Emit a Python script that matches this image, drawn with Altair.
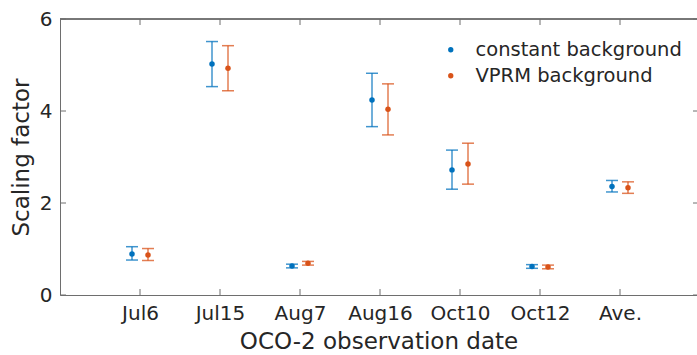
import altair as alt
import pandas as pd

# Observation dates (x categories) and the scaling factors with their error ranges
dates = ["Jul6", "Jul15", "Aug7", "Aug16", "Oct10", "Oct12", "Ave."]

const_mean = [0.89, 5.02, 0.63, 4.24, 2.72, 0.62, 2.36]
const_lo = [0.76, 4.53, 0.59, 3.66, 2.30, 0.58, 2.24]
const_hi = [1.05, 5.51, 0.67, 4.82, 3.15, 0.66, 2.49]

vprm_mean = [0.87, 4.93, 0.69, 4.04, 2.85, 0.61, 2.33]
vprm_lo = [0.75, 4.44, 0.65, 3.48, 2.41, 0.57, 2.21]
vprm_hi = [1.01, 5.42, 0.73, 4.59, 3.30, 0.65, 2.46]

series_names = ["constant background", "VPRM background"]
series_colors = ["#0072BD", "#D95319"]

y_ticks = [0, 2, 4, 6]

W, H = 637, 276
TICK = 6
FONT = "DejaVu Sans"
TXT = "#262626"
AX = "#6e6e6e"

rows = []
for i, d in enumerate(dates):
    pos = i + 1
    rows.append(dict(date=d, x=pos - 0.1, mean=const_mean[i], lo=const_lo[i],
                     hi=const_hi[i], series=series_names[0]))
    rows.append(dict(date=d, x=pos + 0.1, mean=vprm_mean[i], lo=vprm_lo[i],
                     hi=vprm_hi[i], series=series_names[1]))
df = pd.DataFrame(rows)

xt = pd.DataFrame({"x": list(range(1, len(dates) + 1))})
yt = pd.DataFrame({"y": y_ticks})

label_expr = " : ".join(
    f"datum.value == {i + 1} ? '{d}'" for i, d in enumerate(dates)
) + " : ''"

x_scale = alt.Scale(domain=[0, W / 80], nice=False, zero=False)
y_scale = alt.Scale(domain=[0, 6], nice=False)

color = alt.Color(
    "series:N",
    scale=alt.Scale(domain=series_names, range=series_colors),
    legend=alt.Legend(
        title=None, orient="none", legendX=381, legendY=21,
        symbolType="circle", symbolSize=28, symbolStrokeWidth=0, symbolOpacity=1,
        labelFontSize=19.5, labelFont=FONT, labelColor=TXT, labelLimit=0,
        labelOffset=15, rowPadding=5, padding=0,
    ),
)

base = alt.Chart(df)

points = base.mark_circle(size=30, opacity=1).encode(
    x=alt.X("x:Q", scale=x_scale,
            axis=alt.Axis(values=list(range(1, len(dates) + 1)), labelExpr=label_expr,
                          title="OCO-2 observation date", ticks=False, grid=False,
                          domainColor=AX, labelFontSize=20, titleFontSize=23,
                          labelPadding=8, titlePadding=7, labelFont=FONT, titleFont=FONT,
                          labelColor=TXT, titleColor=TXT, titleFontWeight="normal")),
    y=alt.Y("mean:Q", scale=y_scale,
            axis=alt.Axis(values=y_ticks, title="Scaling factor", ticks=False, grid=False,
                          domainColor=AX, labelFontSize=20, titleFontSize=23,
                          labelPadding=8, titlePadding=6, labelFont=FONT, titleFont=FONT,
                          labelColor=TXT, titleColor=TXT, titleFontWeight="normal")),
    color=color,
)

bars = base.mark_rule(strokeWidth=1.5, opacity=0.75).encode(
    x="x:Q", y="lo:Q", y2="hi:Q", color=color,
)

caps_lo = base.mark_tick(orient="horizontal", size=12, thickness=1.5, opacity=0.75).encode(
    x="x:Q", y="lo:Q", color=color,
)
caps_hi = base.mark_tick(orient="horizontal", size=12, thickness=1.5, opacity=0.75).encode(
    x="x:Q", y="hi:Q", color=color,
)

# Box top edge and inward-pointing ticks on all four sides
top_line = alt.Chart(yt).mark_rule(color=AX, strokeWidth=1).encode(
    x=alt.value(0), x2=alt.value(W), y=alt.value(0)
)
ticks_bottom = alt.Chart(xt).mark_rule(color=AX, strokeWidth=1).encode(
    x=alt.X("x:Q", scale=x_scale), y=alt.value(H), y2=alt.value(H - TICK)
)
ticks_top = alt.Chart(xt).mark_rule(color=AX, strokeWidth=1).encode(
    x=alt.X("x:Q", scale=x_scale), y=alt.value(0), y2=alt.value(TICK)
)
ticks_left = alt.Chart(yt).mark_rule(color=AX, strokeWidth=1).encode(
    y=alt.Y("y:Q", scale=y_scale), x=alt.value(0), x2=alt.value(TICK)
)
ticks_right = alt.Chart(yt).mark_rule(color=AX, strokeWidth=1).encode(
    y=alt.Y("y:Q", scale=y_scale), x=alt.value(W - 4), x2=alt.value(W)
)

chart = alt.layer(
    points, bars, caps_lo, caps_hi,
    top_line, ticks_bottom, ticks_top, ticks_left, ticks_right,
).properties(
    width=W, height=H,
    autosize=alt.AutoSizeParams(type="none"),
    padding={"left": 60, "top": 19, "right": 0, "bottom": 60},
    background="white",
).configure_view(stroke=None)

chart.save("out.html", embed_options={"renderer": "svg", "actions": False})
